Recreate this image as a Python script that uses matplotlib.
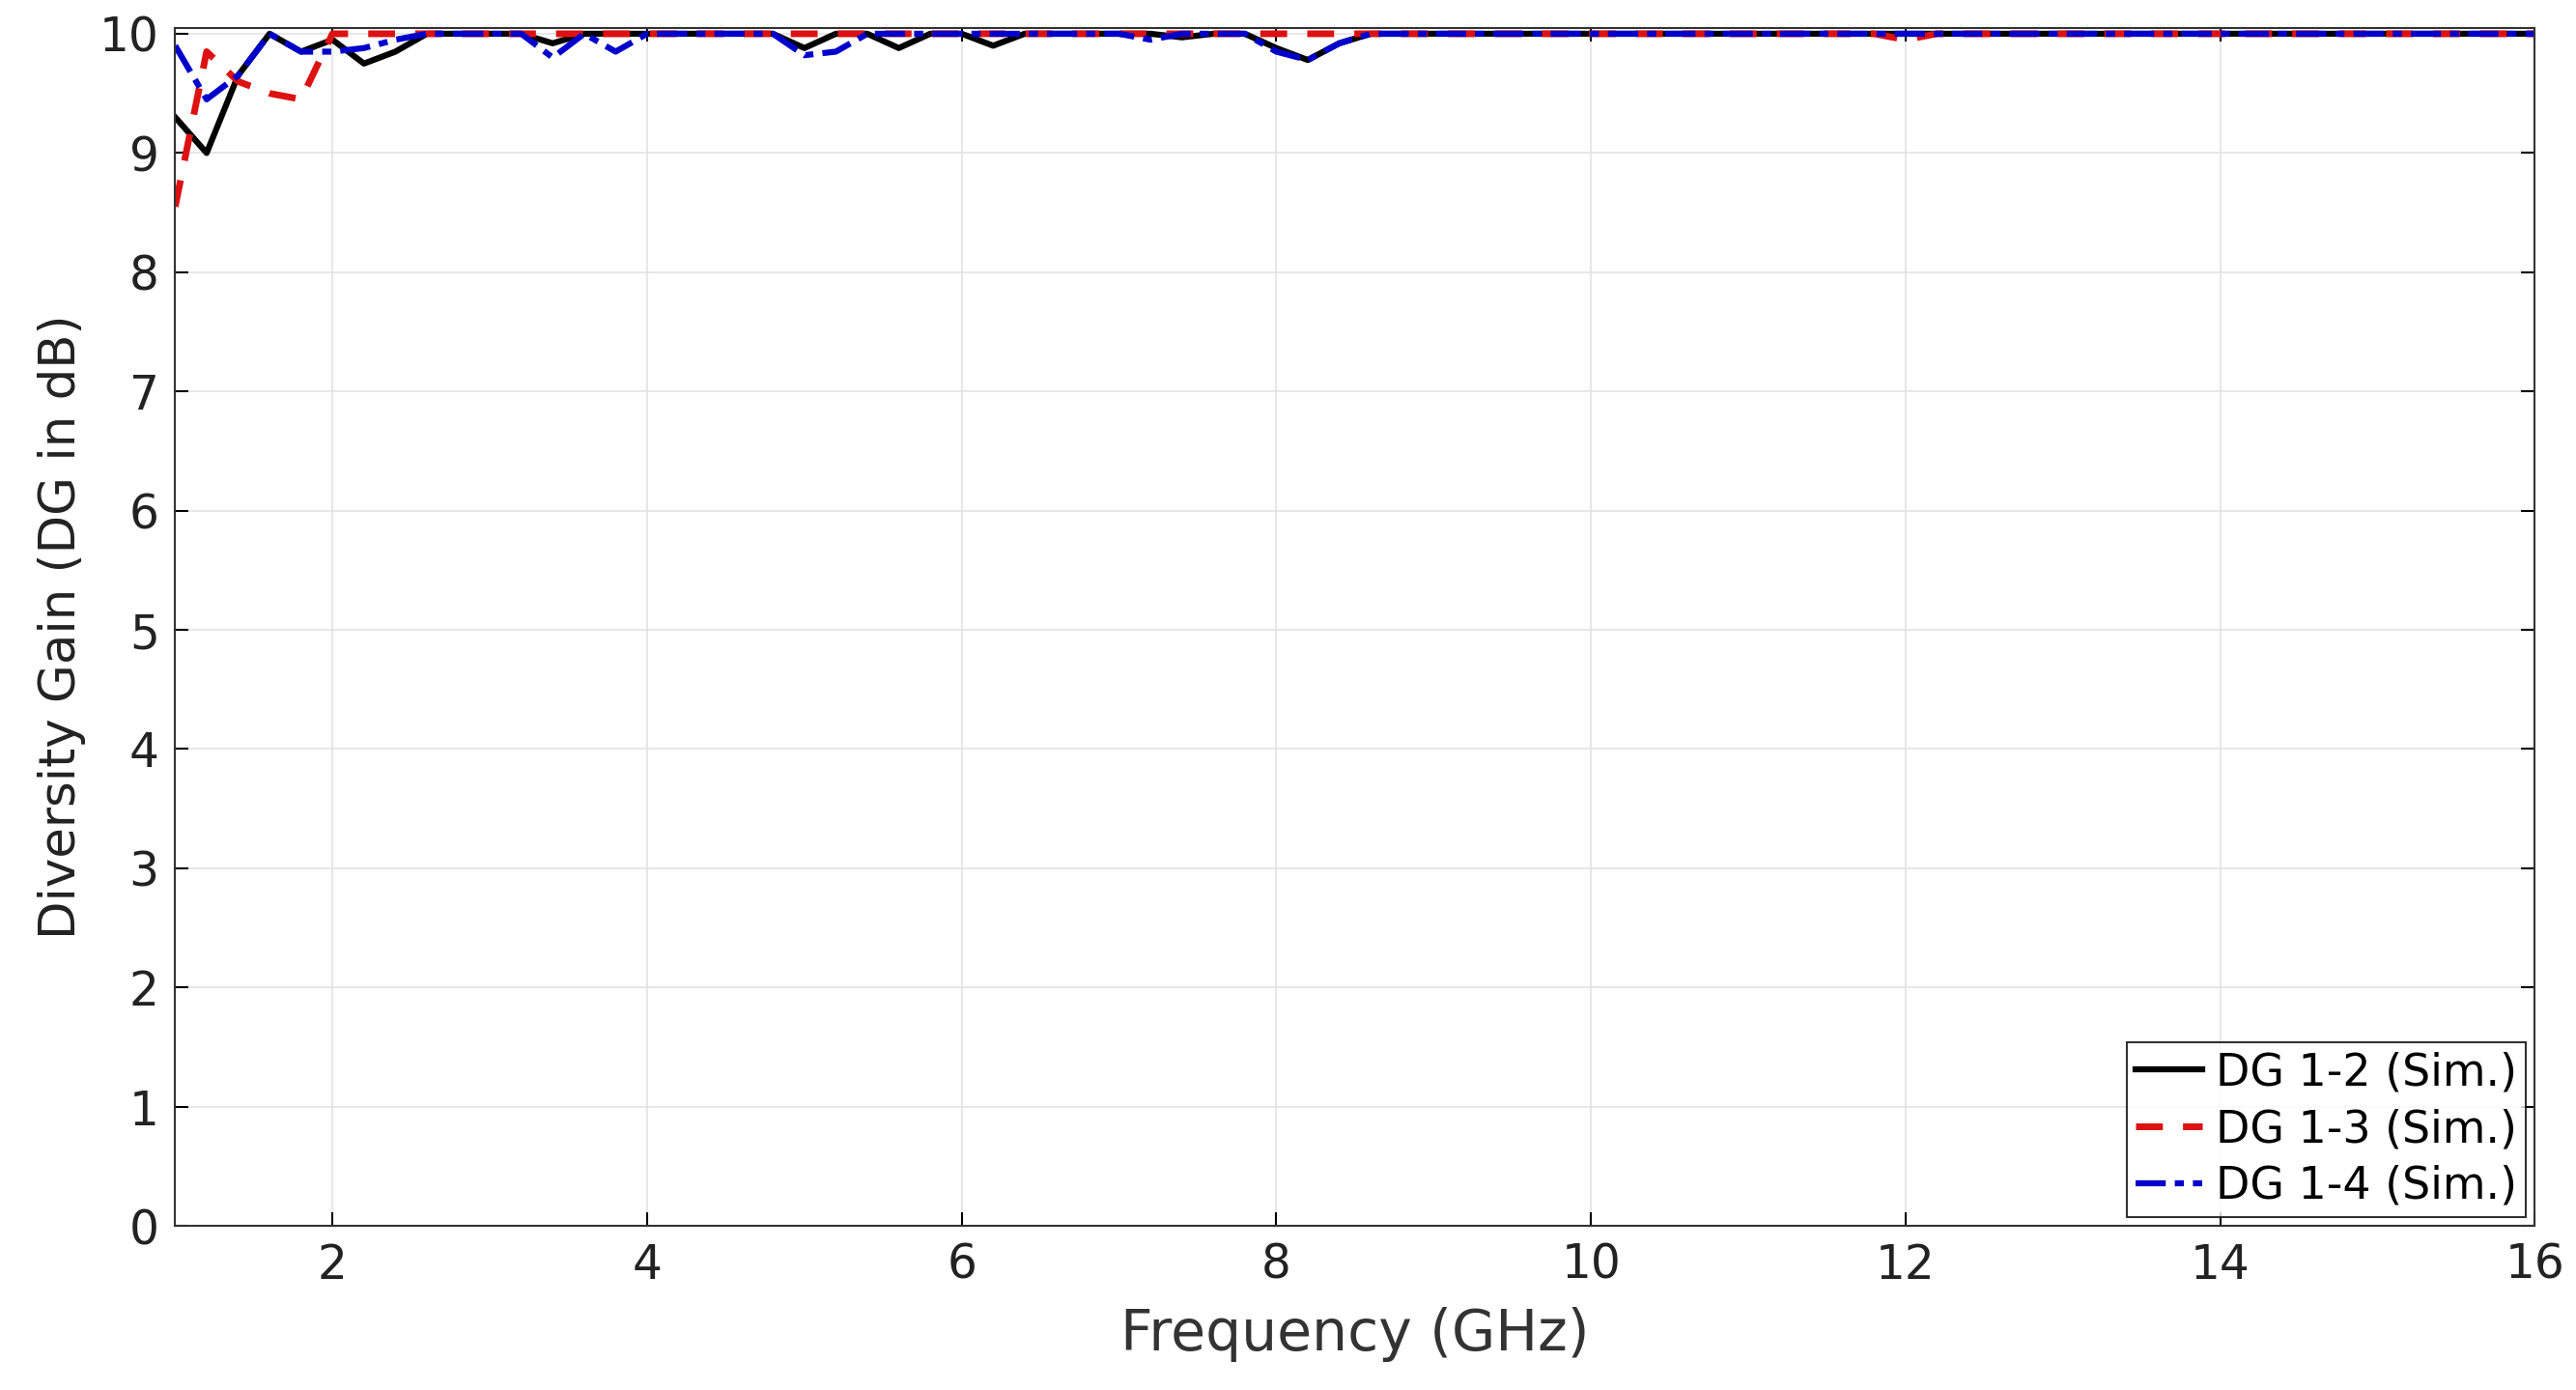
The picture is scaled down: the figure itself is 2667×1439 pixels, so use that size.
import numpy as np
import matplotlib
matplotlib.use("Agg")
import matplotlib.pyplot as plt

freq = np.round(np.arange(1.0, 16.0001, 0.2), 1)
dg12_head = [9.3, 9.0, 9.65, 10, 9.85, 9.95, 9.75, 9.85, 10, 10,
             10, 10, 9.92, 10, 10, 10, 10, 10, 10, 10,
             9.88, 10, 10, 9.88, 10, 10, 9.9, 10, 10, 10,
             10, 10, 9.97, 10, 10, 9.88, 9.78, 9.92, 10, 10]
dg13_head = [8.55, 9.85, 9.6, 9.5, 9.45, 10, 10, 10, 10, 10,
             10, 10, 10, 10, 10, 10, 10, 10, 10, 10,
             10, 10, 10, 10, 10, 10, 10, 10, 10, 10,
             10, 10, 10, 10, 10, 10, 10, 10, 10, 10]
dg14_head = [9.9, 9.45, 9.65, 10, 9.85, 9.85, 9.88, 9.95, 10, 10,
             10, 10, 9.8, 10, 9.85, 10, 10, 10, 10, 10,
             9.82, 9.85, 10, 10, 10, 10, 10, 10, 10, 10,
             10, 9.95, 10, 10, 10, 9.85, 9.78, 9.92, 10, 10]
n_tail = len(freq) - 40
dg12 = np.array(dg12_head + [10.0] * n_tail)
dg13 = np.array(dg13_head + [10.0] * n_tail)
dg13[np.where(np.isclose(freq, 12.0))[0][0]] = 9.95
dg14 = np.array(dg14_head + [10.0] * n_tail)
labels = ["DG 1-2 (Sim.)", "DG 1-3 (Sim.)", "DG 1-4 (Sim.)"]

fig = plt.figure(figsize=(26.67, 14.39), dpi=100)
ax = fig.add_axes([0.068, 0.118, 0.916, 0.862])
ax.plot(freq, dg12, color="black", lw=4.5, ls="-", label=labels[0])
ax.plot(freq, dg13, color="#dd1111", lw=5, ls=(0, (4, 3)), label=labels[1])
ax.plot(freq, dg14, color="#0000cc", lw=4.5, ls=(0, (5, 1.5, 1.5, 1.5)), label=labels[2])
ax.set_xlim(1, 16)
ax.set_ylim(0, 10.05)
ax.set_xticks([2, 4, 6, 8, 10, 12, 14, 16])
ax.set_yticks(range(0, 11))
ax.grid(True, color="#e3e3e3", lw=1.2)
ax.tick_params(direction="in", labelsize=35, length=10, width=1.5, top=True, right=True,
               pad=12, labelcolor="#222222")
for s in ax.spines.values():
    s.set_linewidth(1.5)
    s.set_color("#333333")
ax.set_xlabel("Frequency (GHz)", fontsize=42, color="#333333", labelpad=14)
ax.set_ylabel("Diversity Gain (DG in dB)", fontsize=37, color="#222222", labelpad=10)
leg = ax.legend(loc="lower right", fontsize=33, frameon=True, fancybox=False,
                edgecolor="black", borderaxespad=0.2, handlelength=1.5, handletextpad=0.3,
                borderpad=0.2, labelspacing=0.3)
leg.get_frame().set_linewidth(1.5)
fig.savefig("out.png", dpi=100)
